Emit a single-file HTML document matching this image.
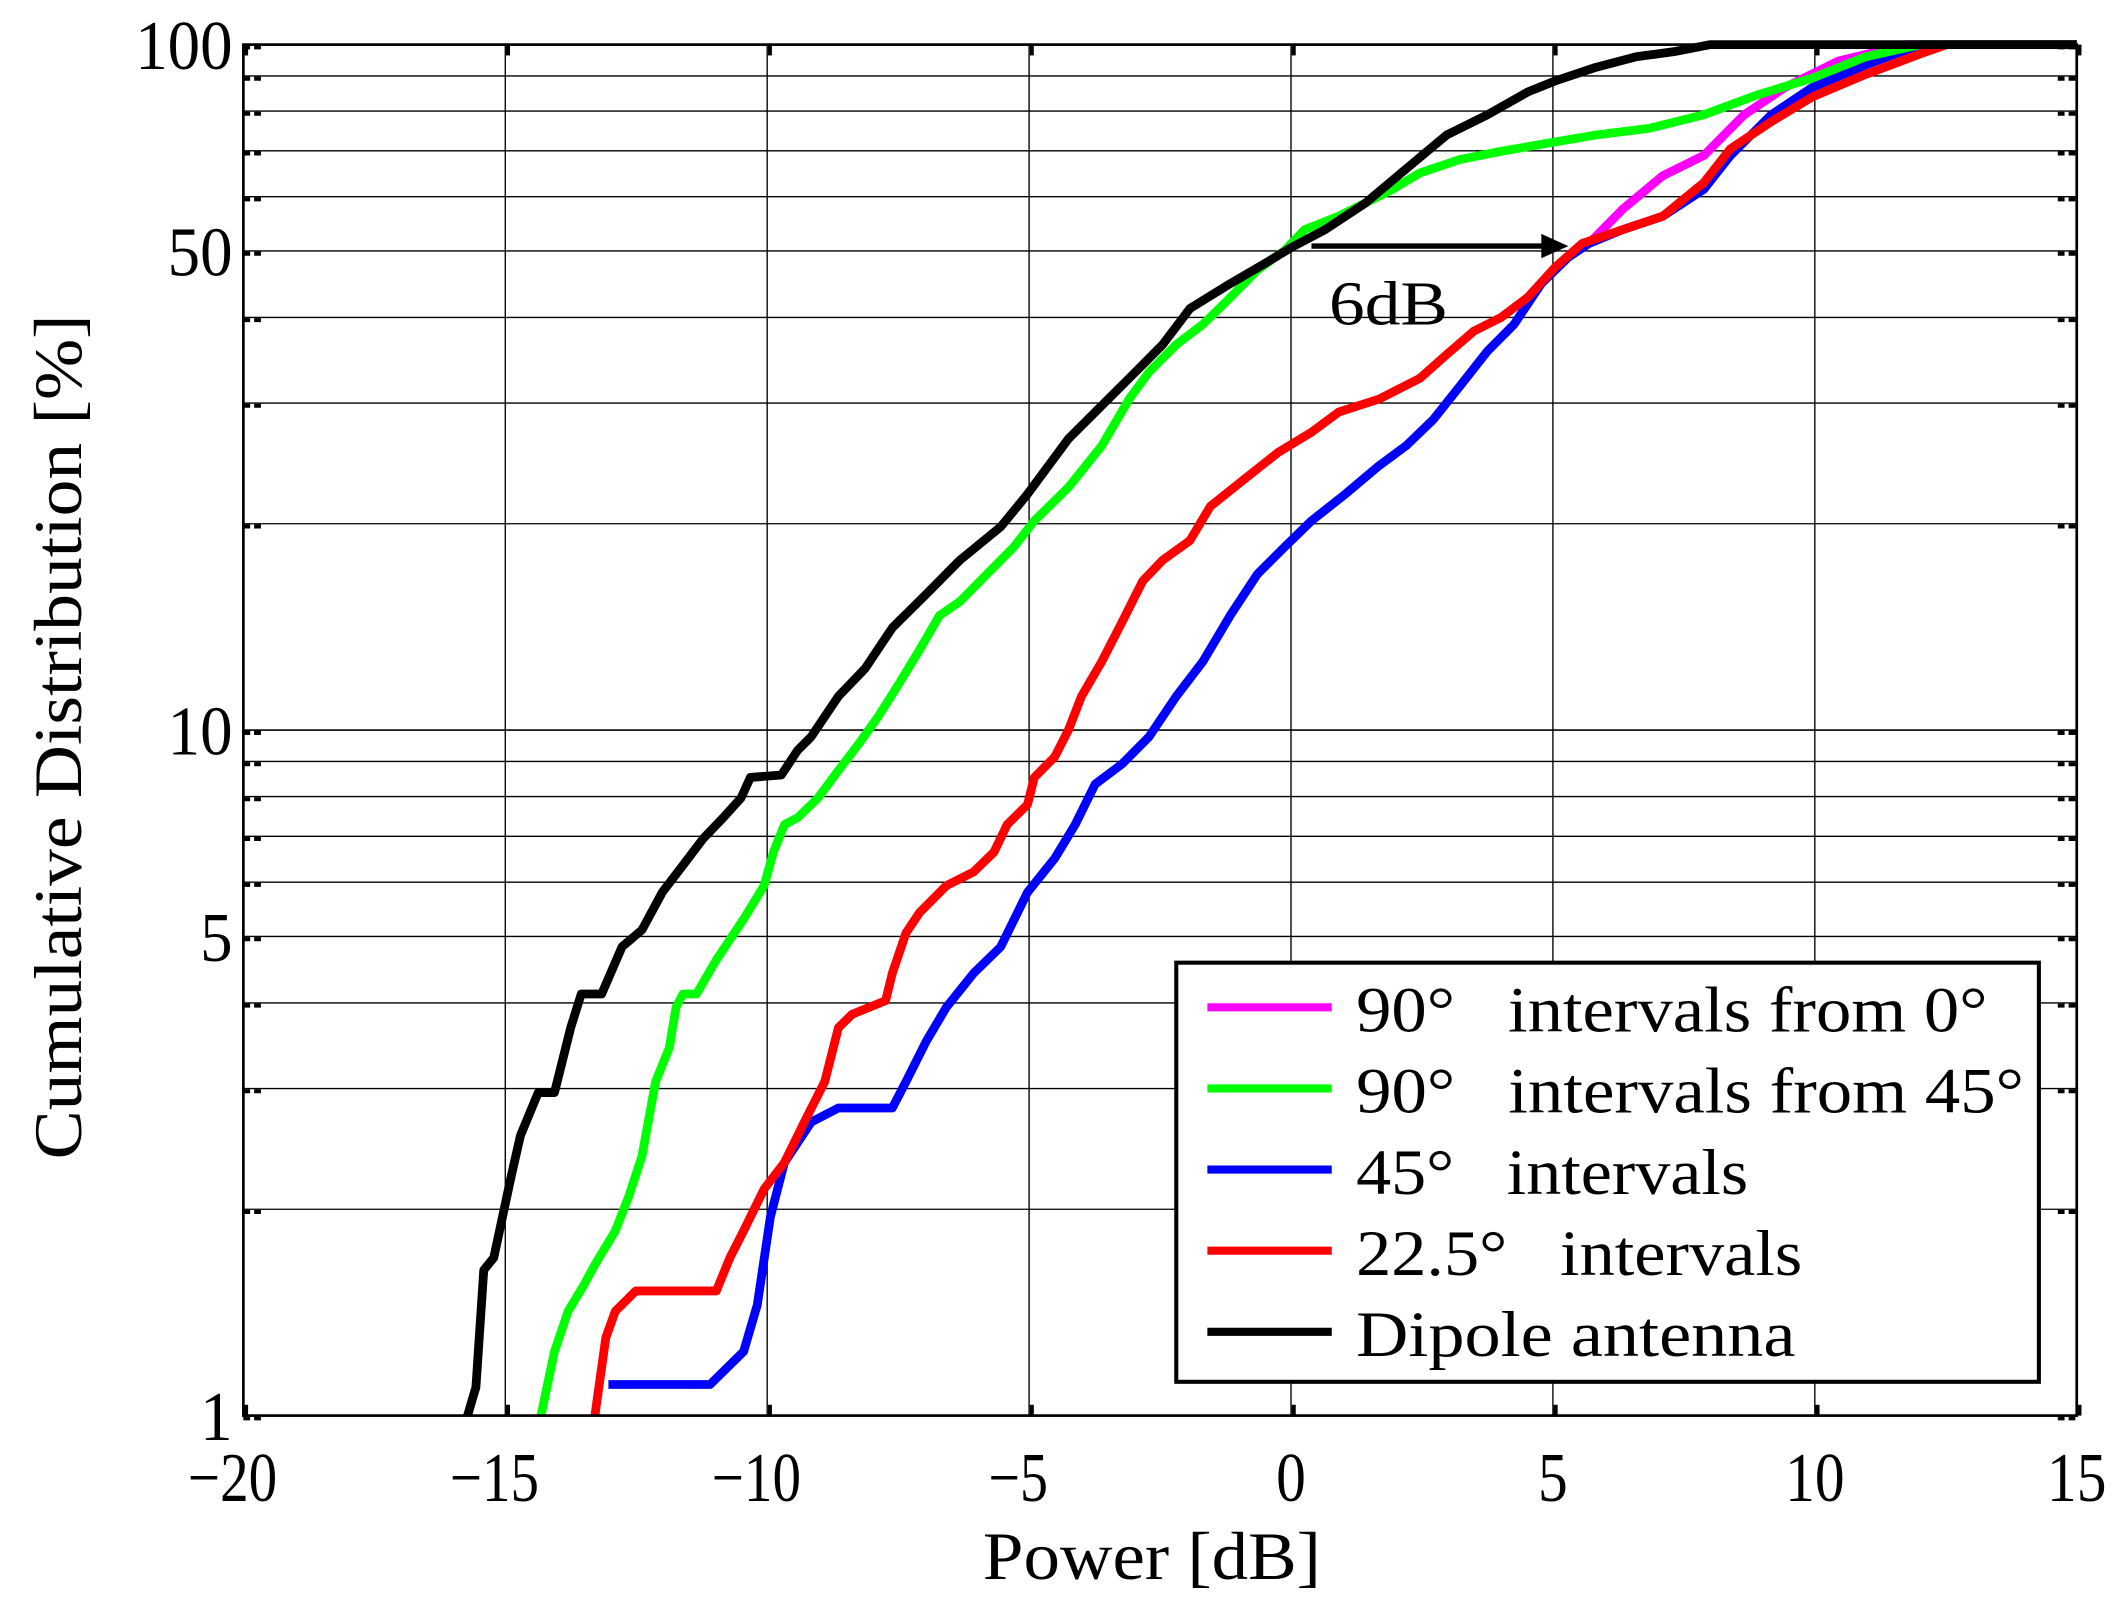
<!DOCTYPE html>
<html><head><meta charset="utf-8"><style>
html,body{margin:0;padding:0;background:#fff;}
svg{display:block;}
text{font-family:"Liberation Serif",serif;fill:#000;}
</style></head><body>
<svg id="chart" width="2120" height="1608" viewBox="0 0 1568 1189.3" preserveAspectRatio="none" xmlns="http://www.w3.org/2000/svg">
<g id="grid"></g>
<g id="series"></g>
<rect x="180" y="33" width="1356" height="1014" fill="none" stroke="#000" stroke-width="2"/>
<g id="ticks"></g>
<text x="852" y="1168" font-size="50" text-anchor="middle" textLength="250" lengthAdjust="spacingAndGlyphs">Power [dB]</text>
<text transform="translate(60,545) rotate(-90)" font-size="50" text-anchor="middle" textLength="625" lengthAdjust="spacingAndGlyphs">Cumulative Distribution [%]</text>
<g>
<line x1="970" y1="182" x2="1142" y2="182" stroke="#000" stroke-width="4"/>
<polygon points="1160,182 1140,173 1140,191" fill="#000"/>
<text x="983" y="240" font-size="46" textLength="88" lengthAdjust="spacingAndGlyphs">6dB</text>
</g>
<g>
<rect x="870" y="712" width="638" height="310" fill="#fff" stroke="#000" stroke-width="3"/>
<g><line x1="893" y1="745" x2="985" y2="745" stroke="#ff00ff" stroke-width="6"/><text x="1003" y="763" font-size="48" textLength="467" lengthAdjust="spacingAndGlyphs" xml:space="preserve">90°   intervals from 0°</text></g>
<g><line x1="893" y1="805" x2="985" y2="805" stroke="#00ff00" stroke-width="6"/><text x="1003" y="823" font-size="48" textLength="494" lengthAdjust="spacingAndGlyphs" xml:space="preserve">90°   intervals from 45°</text></g>
<g><line x1="893" y1="865" x2="985" y2="865" stroke="#0000ff" stroke-width="6"/><text x="1003" y="883" font-size="48" textLength="290" lengthAdjust="spacingAndGlyphs" xml:space="preserve">45°   intervals</text></g>
<g><line x1="893" y1="925" x2="985" y2="925" stroke="#ff0000" stroke-width="6"/><text x="1003" y="943" font-size="48" textLength="330" lengthAdjust="spacingAndGlyphs" xml:space="preserve">22.5°   intervals</text></g>
<g><line x1="893" y1="985" x2="985" y2="985" stroke="#000" stroke-width="6"/><text x="1003" y="1003" font-size="48" textLength="325" lengthAdjust="spacingAndGlyphs">Dipole antenna</text></g>
</g>
</svg>
<script>
const xTicks = [-20,-15,-10,-5,0,5,10,15];
const yTickLabels = [1,5,10,50,100];
const blackX = [-15.72,-15.56,-15.41,-15.22,-14.89,-14.71,-14.37,-14.06,-13.75,-13.55,-13.16,-12.77,-12.39,-12.00,-11.61,-11.22,-10.84,-10.50,-10.32,-9.73,-9.42,-9.16,-8.64,-8.13,-7.61,-6.96,-6.32,-5.54,-5.03,-4.25,-3.74,-3.09,-2.45,-1.93,-1.16,-0.51,0.01,0.65,1.43,2.20,2.97,3.75,4.52,5.04,5.81,6.59,7.36,8.01,15];
const blackY = [1.0,1.10,1.63,1.70,2.23,2.56,2.96,2.96,3.68,4.12,4.12,4.83,5.11,5.80,6.35,6.95,7.45,7.96,8.53,8.6,9.34,9.78,11.2,12.3,14.1,15.8,17.7,19.8,22.1,26.6,29.1,32.6,36.5,41.2,44.8,47.9,50.6,53.7,58.8,65.9,73.8,79.0,85.3,88.5,92.6,96.0,97.8,100,100];
const greenX = [-14.32,-14.06,-13.80,-13.50,-13.29,-12.90,-12.64,-12.39,-12.13,-11.87,-11.74,-11.61,-11.35,-10.97,-10.71,-10.45,-10.06,-9.88,-9.67,-9.42,-9.03,-8.64,-8.25,-7.87,-7.48,-7.09,-6.71,-6.32,-5.80,-5.29,-4.90,-4.25,-3.61,-3.09,-2.71,-2.19,-1.68,-1.29,-0.64,-0.12,0.26,0.91,1.43,1.94,2.46,3.23,4.01,5.04,5.81,6.84,7.88,8.91,9.94,10.97,12.01,15];
const greenY = [1.0,1.24,1.42,1.55,1.66,1.86,2.09,2.39,3.07,3.44,3.94,4.12,4.12,4.62,4.95,5.30,5.93,6.64,7.28,7.45,7.96,8.73,9.55,10.5,11.7,13.1,14.7,15.4,16.9,18.5,20.2,22.6,26.0,30.4,33.3,36.5,39.1,41.8,46.9,50.1,53.7,56.2,58.8,61.5,65.0,68.0,69.9,72.1,73.8,75.5,79.0,84.5,89.3,96.0,100,100];
const redX = [-13.29,-13.08,-12.90,-12.51,-10.97,-10.71,-10.45,-10.06,-9.67,-9.29,-8.90,-8.64,-8.38,-7.74,-7.61,-7.35,-7.09,-6.58,-6.06,-5.67,-5.42,-5.03,-4.90,-4.51,-4.25,-4.00,-3.61,-3.22,-2.83,-2.45,-1.93,-1.54,-0.90,-0.25,0.39,0.91,1.68,2.46,2.97,3.49,4.01,4.52,5.04,5.56,6.33,7.10,7.88,8.39,9.17,9.94,10.97,12.01,12.52,15];
const redY = [1.0,1.30,1.42,1.52,1.52,1.70,1.86,2.14,2.34,2.68,3.07,3.68,3.85,4.03,4.42,5.06,5.42,5.93,6.21,6.64,7.28,7.79,8.53,9.14,10.0,11.2,12.6,14.4,16.5,17.7,18.9,21.2,23.2,25.4,27.2,29.1,30.4,32.6,35.3,38.2,40.0,42.8,47.3,51.3,53.7,56.2,62.9,70.5,77.2,83.8,90.5,96.9,100,100];
const blueX = [-13.03,-11.09,-10.45,-10.19,-9.94,-9.67,-9.16,-8.64,-7.61,-7.35,-6.96,-6.58,-6.06,-5.54,-5.03,-4.51,-4.12,-3.74,-3.22,-2.71,-2.19,-1.68,-1.16,-0.64,-0.12,0.39,1.04,1.68,2.20,2.72,3.23,3.75,4.26,4.78,5.30,5.69,6.33,7.10,7.88,8.39,9.17,9.94,10.97,12.01,15];
const blueY = [1.11,1.11,1.24,1.45,1.95,2.34,2.68,2.81,2.81,3.07,3.52,3.94,4.42,4.83,5.80,6.50,7.28,8.34,8.93,9.78,11.2,12.6,14.7,16.9,18.5,20.2,22.1,24.3,26.0,28.4,31.8,35.7,39.1,44.8,49.0,51.3,53.7,56.2,61.5,68.9,79.0,86.5,93.4,100,100];
const magentaX = [5.30,5.69,6.33,7.10,7.88,8.65,9.42,10.46,11.75,15];
const magentaY = [49.0,51.3,57.5,64.4,68.9,79.0,86.5,94.7,100,100];

const L=180,R=1536,T=33,B=1047;
function xs(v){return L+(v+20)/35*(R-L);}
function ys(p){return B-(Math.log10(p))/2*(B-T);}
const NS='http://www.w3.org/2000/svg';
const grid=document.getElementById('grid');
for(const v of xTicks){
  const ln=document.createElementNS(NS,'line');
  
  
  ln.setAttribute('x1',xs(v));ln.setAttribute('x2',xs(v));ln.setAttribute('y1',T);ln.setAttribute('y2',B);
  ln.setAttribute('stroke','#000');ln.setAttribute('stroke-width','1');
  grid.appendChild(ln);
}
for(const dec of [1,10]){for(let k=1;k<=10;k++){
  const p=dec*k;if(p>100)continue;
  const ln=document.createElementNS(NS,'line');
  
  
  ln.setAttribute('x1',L);ln.setAttribute('x2',R);ln.setAttribute('y1',ys(p));ln.setAttribute('y2',ys(p));
  ln.setAttribute('stroke','#000');ln.setAttribute('stroke-width','1');
  grid.appendChild(ln);
  for(const [a,b] of [[L,L+14],[R-14,R]]){
    const tk=document.createElementNS(NS,'line');
    
    
    tk.setAttribute('x1',a);tk.setAttribute('x2',b);tk.setAttribute('y1',ys(p)+2);tk.setAttribute('y2',ys(p)+2);
    tk.setAttribute('stroke','#000');tk.setAttribute('stroke-width','3');tk.setAttribute('stroke-dasharray','5,3');
    grid.appendChild(tk);
  }
}}
const ticks=document.getElementById('ticks');
for(const v of xTicks){
  const t=document.createElementNS(NS,'text');
  
  
  const s=v<0?('\u2212'+(-v)):String(v);
  t.setAttribute('x',xs(v)-(v<0?8:0));t.setAttribute('y',1110);t.setAttribute('font-size','52');t.setAttribute('text-anchor','middle');
  t.setAttribute('textLength',String(s.length*22));t.setAttribute('lengthAdjust','spacingAndGlyphs');
  t.textContent=s;
  ticks.appendChild(t);
  for(const [a,b] of [[T,T+8],[B-8,B]]){
    const tk=document.createElementNS(NS,'line');
    
    
    tk.setAttribute('x1',xs(v)+2);tk.setAttribute('x2',xs(v)+2);tk.setAttribute('y1',a);tk.setAttribute('y2',b);
    tk.setAttribute('stroke','#000');tk.setAttribute('stroke-width','3');
    ticks.appendChild(tk);
  }
}
for(const p of yTickLabels){
  const t=document.createElementNS(NS,'text');
  
  
  const s=String(p);
  t.setAttribute('x',172);t.setAttribute('y',ys(p)+18);t.setAttribute('font-size','52');t.setAttribute('text-anchor','end');
  t.setAttribute('textLength',String(s.length*24));t.setAttribute('lengthAdjust','spacingAndGlyphs');
  t.textContent=s;
  ticks.appendChild(t);
}
const series=document.getElementById('series');
function draw(X,Y,color,name){
  let d='';
  for(let i=0;i<X.length;i++){d+=(i?'L':'M')+xs(X[i]).toFixed(1)+','+ys(Y[i]).toFixed(1);}
  const p=document.createElementNS(NS,'path');
  
  
  p.setAttribute('d',d);p.setAttribute('fill','none');p.setAttribute('stroke',color);
  p.setAttribute('stroke-width','6.5');p.setAttribute('stroke-linejoin','round');
  series.appendChild(p);
}
draw(magentaX,magentaY,'#ff00ff','line-90-from-0');
draw(blueX,blueY,'#0000ff','line-45-intervals');
draw(redX,redY,'#ff0000','line-22-5-intervals');
draw(greenX,greenY,'#00ff00','line-90-from-45');
draw(blackX,blackY,'#000000','line-dipole');
</script>
</body></html>
